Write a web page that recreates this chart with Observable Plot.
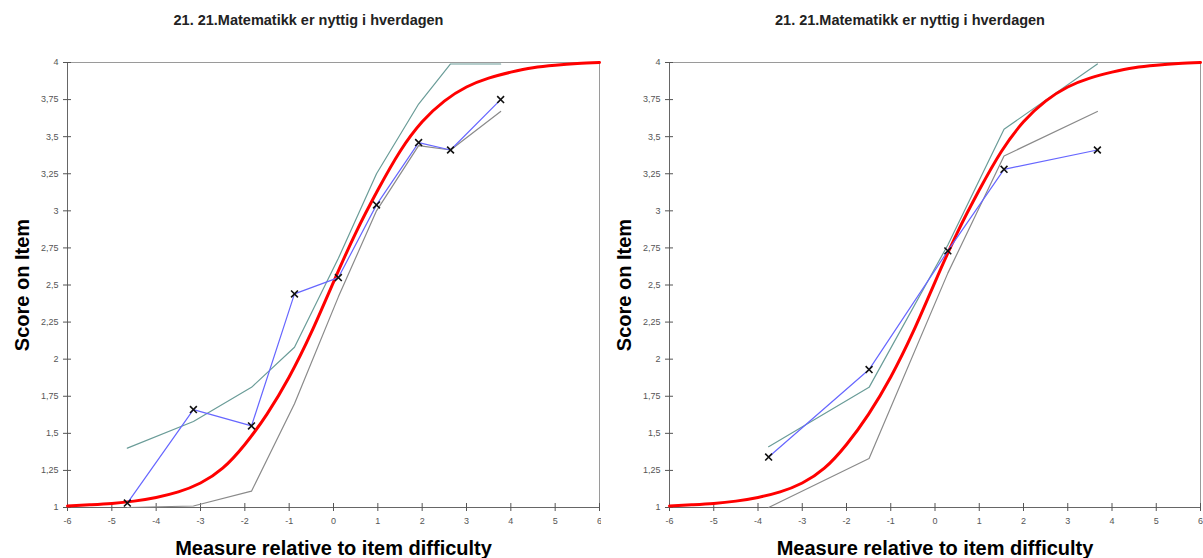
<!DOCTYPE html>
<html>
<head>
<meta charset="utf-8">
<script src="https://cdn.jsdelivr.net/npm/d3@7"></script>
<script src="https://cdn.jsdelivr.net/npm/@observablehq/plot@0.6"></script>
<style>
  html, body { margin: 0; padding: 0; background: #fff; }
  #wrap { display: flex; flex-direction: row; width: 1203px; height: 558px; overflow: hidden; }
  #wrap svg { display: block; overflow: visible; }
</style>
</head>
<body>
<div id="wrap"></div>
<script>
// ---- tick values and labels ----
const xTicks = [-6, -5, -4, -3, -2, -1, 0, 1, 2, 3, 4, 5, 6];
const xTickLabels = ["-6", "-5", "-4", "-3", "-2", "-1", "0", "1", "2", "3", "4", "5", "6"];
const yTicks = [1, 1.25, 1.5, 1.75, 2, 2.25, 2.5, 2.75, 3, 3.25, 3.5, 3.75, 4];
const yTickLabels = ["1", "1,25", "1,5", "1,75", "2", "2,25", "2,5", "2,75", "3", "3,25", "3,5", "3,75", "4"];

// ---- texts ----
const chartTitle = "21. 21.Matematikk er nyttig i hverdagen";
const xLabel = "Measure relative to item difficulty";
const yLabel = "Score on Item";

// ---- model expected score curve ----
const modelX = [-6, -5.5, -5, -4.5, -4, -3.5, -3, -2.5, -2, -1.5, -1, -0.5, 0, 0.5, 1, 1.5, 2, 2.5, 3, 3.5, 4, 4.5, 5, 5.5, 6];
const modelScore = [1.01, 1.018, 1.027, 1.043, 1.068, 1.105, 1.165, 1.265, 1.425, 1.63, 1.88, 2.18, 2.52, 2.85, 3.14, 3.40, 3.60, 3.74, 3.835, 3.895, 3.935, 3.965, 3.982, 3.993, 4.0];

// ---- left panel ----
const leftMeasure  = [-4.65, -3.16, -1.85, -0.88, 0.11, 0.97, 1.92, 2.64, 3.77];
const leftObserved = [1.03, 1.66, 1.55, 2.44, 2.55, 3.04, 3.46, 3.41, 3.75];
const leftUpper    = [1.40, 1.58, 1.81, 2.08, 2.68, 3.25, 3.72, 3.99, 3.99];
const leftLower    = [1.00, 1.01, 1.11, 1.70, 2.42, 3.00, 3.44, 3.41, 3.67];

// ---- right panel ----
const rightMeasure  = [-3.76, -1.49, 0.29, 1.56, 3.67];
const rightObserved = [1.34, 1.93, 2.73, 3.28, 3.41];
const rightUpper    = [1.41, 1.81, 2.77, 3.55, 3.99];
const rightLower    = [1.00, 1.33, 2.58, 3.37, 3.67];

const pts = (xs, ys) => xs.map((x, i) => ({x, y: ys[i]}));
const model = pts(modelX, modelScore);

function panel({measure, observed, upper, lower, width, marginLeft, marginRight}) {
  return Plot.plot({
    width, height: 558,
    marginTop: 62, marginBottom: 51, marginLeft, marginRight,
    x: {domain: [xTicks[0], xTicks[xTicks.length - 1]]},
    y: {domain: [yTicks[0], yTicks[yTicks.length - 1]]},
    style: {fontFamily: "'Liberation Sans', Arial, sans-serif", background: "white", overflow: "visible"},
    marks: [
      Plot.frame({stroke: "#9a9a9a"}),
      Plot.ruleX([xTicks[0]], {stroke: "#666"}),
      Plot.ruleY([yTicks[0]], {stroke: "#666"}),
      Plot.axisX({ticks: xTicks, tickSize: 8, dy: -4, tickPadding: 6, fontSize: 9, color: "#555", label: null,
        tickFormat: d => xTickLabels[xTicks.indexOf(d)]}),
      Plot.axisY({ticks: yTicks, tickSize: 8, dx: 4, tickPadding: 5, fontSize: 9, color: "#555", label: null,
        tickFormat: d => yTickLabels[yTicks.indexOf(d)]}),
      Plot.line(pts(measure, upper), {x: "x", y: "y", stroke: "#6a9c98", strokeWidth: 1.2}),
      Plot.line(pts(measure, lower), {x: "x", y: "y", stroke: "#8a8a8a", strokeWidth: 1.2}),
      Plot.line(model, {x: "x", y: "y", stroke: "#ff0000", strokeWidth: 3, curve: "natural"}),
      Plot.line(pts(measure, observed), {x: "x", y: "y", stroke: "#6666ff", strokeWidth: 1.2}),
      Plot.dot(pts(measure, observed), {x: "x", y: "y", symbol: "times", r: 3.2, stroke: "#111", strokeWidth: 1.6}),
      Plot.text([chartTitle], {frameAnchor: "top", dy: -42, dx: -25, fontSize: 14.5, fontWeight: "bold", fill: "#222", lineAnchor: "middle", textAnchor: "middle"}),
      Plot.text([yLabel], {frameAnchor: "left", dx: -45, rotate: -90, fontSize: 20, fontWeight: "bold", fill: "#000", textAnchor: "middle", lineAnchor: "middle"}),
      Plot.text([xLabel], {frameAnchor: "bottom", dy: 41, fontSize: 20, fontWeight: "bold", fill: "#000", textAnchor: "middle", lineAnchor: "middle"})
    ]
  });
}

const wrap = document.getElementById("wrap");
wrap.append(panel({measure: leftMeasure, observed: leftObserved, upper: leftUpper, lower: leftLower, width: 601, marginLeft: 67, marginRight: 2}));
wrap.append(panel({measure: rightMeasure, observed: rightObserved, upper: rightUpper, lower: rightLower, width: 602, marginLeft: 68, marginRight: 3}));
</script>
</body>
</html>
